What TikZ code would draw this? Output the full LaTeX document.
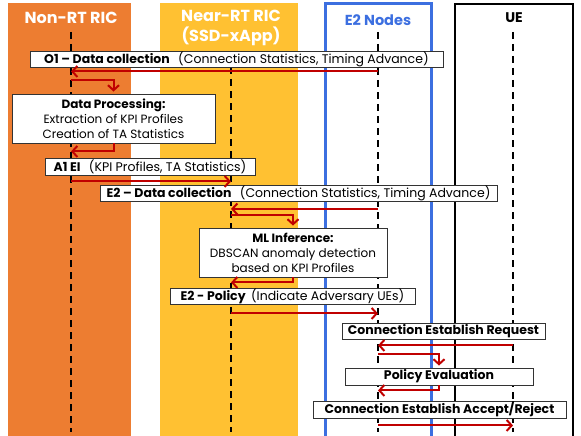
\documentclass[tikz,border=0pt]{standalone}
\usepackage{fontspec}
\setmainfont{Poppins}
\usetikzlibrary{arrows.meta,positioning}

\definecolor{nonrtorange}{HTML}{ED7D31}
\definecolor{nearrtyellow}{HTML}{FFC132}
\definecolor{etwoblue}{HTML}{3C6FE0}
\definecolor{msgred}{HTML}{C00000}

\tikzset{
  hdr/.style={font=\fontsize{16}{20}\selectfont\bfseries, align=center, inner sep=0pt},
  lifeline/.style={black, line width=1.6pt, dash pattern=on 7pt off 5pt},
  msgbox/.style={draw=gray!40!black, fill=white, line width=0.9pt, inner sep=0pt,
    font=\fontsize{12.5}{15}\selectfont, align=center},
  tallbox/.style={msgbox, font=\fontsize{12}{15}\selectfont},
  boldbox/.style={msgbox, font=\fontsize{12.5}{15}\selectfont\bfseries},
  msg/.style={msgred, line width=2pt, -{Straight Barb[length=5pt,width=11pt,line width=2pt]}},
}

\begin{document}
\begin{tikzpicture}[x=1pt,y=-1pt]
\useasboundingbox (0,0) rectangle (581,436);

  % Swim lanes
  \fill[nonrtorange]  (8,3) rectangle (131,440);
  \fill[nearrtyellow] (160,3) rectangle (298,440);
  \draw[etwoblue, line width=3pt] (325,4) rectangle (431,445);
  \draw[black, line width=2.5pt]  (455,4) rectangle (573,445);

  % Headers
  \node[hdr, white]    (nonrt)  at (71,18)  {Non-RT RIC};
  \node[hdr, white]    (nearrt) at (231,28) {Near-RT RIC\\(SSD-xApp)};
  \node[hdr, etwoblue, font=\fontsize{14.5}{16}\selectfont\bfseries] (e2n) at (378,20) {E2 Nodes};
  \node[hdr, font=\fontsize{14}{16}\selectfont\bfseries] (ue) at (514,18) {UE};

  % Lifelines
  \coordinate (nonrtx)  at (71,32);
  \coordinate (nearrtx) at (231,67);
  \coordinate (e2x)     at (378,32);
  \coordinate (uex)     at (513,32);
  \foreach \ll in {nonrtx,nearrtx,e2x,uex}{
    \draw[lifeline] (\ll) -- (\ll |- 0,432);
  }

  % Message boxes
  \node[msgbox, minimum width=413pt, minimum height=16pt] (o1) at (236.5,59)
    {\textbf{O1 -- Data collection}\hspace{5pt} (Connection Statistics, Timing Advance)};
  \node[tallbox, minimum width=203pt, minimum height=49pt] (dp) at (113.5,118.5)
    {\textbf{Data Processing:}\\Extraction of KPI Profiles\\Creation of TA Statistics};
  \node[msgbox, minimum width=210pt, minimum height=17pt] (a1) at (150,166.5)
    {\textbf{A1 EI}\hspace{5pt} (KPI Profiles, TA Statistics)};
  \node[msgbox, minimum width=397pt, minimum height=16pt] (e2dc) at (298.5,193.5)
    {\textbf{E2 -- Data collection}\hspace{5pt} (Connection Statistics, Timing Advance)};
  \node[tallbox, minimum width=188pt, minimum height=49pt] (ml) at (293,252.5)
    {\textbf{ML Inference:}\\DBSCAN anomaly detection\\based on KPI Profiles};
  \node[msgbox, minimum width=245pt, minimum height=16pt] (pol) at (292.5,296)
    {\textbf{E2 - Policy}\hspace{2pt} (Indicate Adversary UEs)};
  \node[boldbox, minimum width=203pt, minimum height=16pt] (cer) at (443.5,331)
    {Connection Establish Request};
  \node[boldbox, minimum width=188pt, minimum height=17pt] (pe) at (439,376.5)
    {Policy Evaluation};
  \node[boldbox, minimum width=253pt, minimum height=17pt] (cear) at (439.5,409.5)
    {Connection Establish Accept/Reject};

  % Messages
  \draw[msg] ([yshift=-4pt]o1.south -| e2x) -- ([yshift=-4pt]o1.south -| nonrtx);
  \draw[msg, shorten >=2pt] ([yshift=14pt]dp.north -| nonrtx) -| (dp.north);
  \draw[msg] (dp.south) |- ([yshift=-8pt]dp.south -| nonrtx);
  \draw[msg] ([yshift=-6pt]a1.south -| nonrtx) -- ([yshift=-6pt]a1.south -| nearrtx);
  \draw[msg] ([yshift=-7pt]e2dc.south -| e2x) -- ([yshift=-7pt]e2dc.south -| nearrtx);
  \draw[msg, shorten >=2pt] ([yshift=13pt]ml.north -| nearrtx) -| (ml.north);
  \draw[msg] (ml.south) |- ([yshift=-5pt]ml.south -| nearrtx);
  \draw[msg] ([yshift=-9pt]pol.south -| nearrtx) -- ([yshift=-9pt]pol.south -| e2x);
  \draw[msg] ([yshift=-6pt]cer.south -| uex) -- ([yshift=-6pt]cer.south -| e2x);
  \draw[msg, shorten >=2pt] ([yshift=14pt]pe.north -| e2x) -| (pe.north);
  \draw[msg] (pe.south) |- ([yshift=-5pt]pe.south -| e2x);
  \draw[msg] ([yshift=-7pt]cear.south -| e2x) -- ([yshift=-7pt]cear.south -| uex);
\end{tikzpicture}
\end{document}
